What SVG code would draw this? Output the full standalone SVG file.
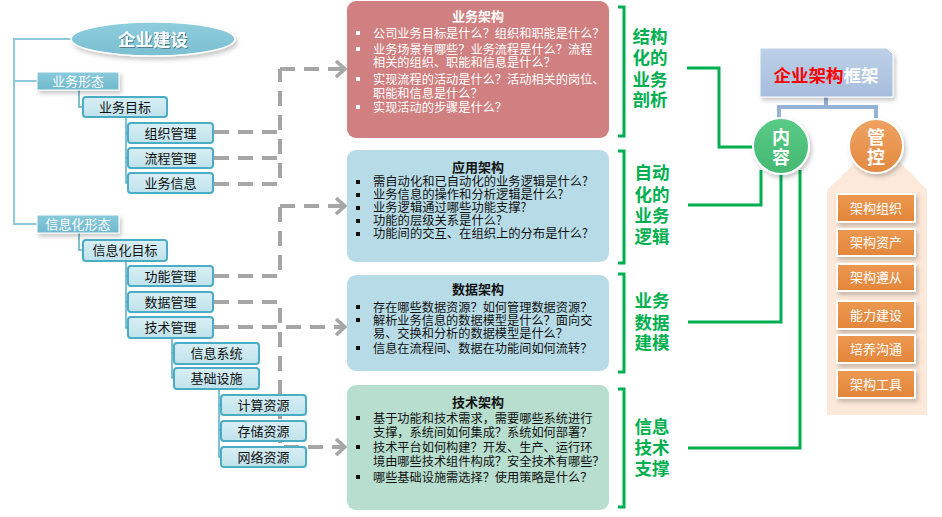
<svg xmlns="http://www.w3.org/2000/svg" width="942" height="517" viewBox="0 0 942 517">
<defs>
<filter id="sh" x="-20%" y="-20%" width="150%" height="160%"><feDropShadow dx="2" dy="3" stdDeviation="2" flood-color="#000" flood-opacity="0.22"/></filter>
<filter id="tsh" x="-10%" y="-10%" width="130%" height="140%"><feDropShadow dx="1" dy="1" stdDeviation="0.6" flood-color="#000" flood-opacity="0.35"/></filter>
<linearGradient id="gNode" x1="0" y1="0" x2="0" y2="1"><stop offset="0" stop-color="#D8EFF5"/><stop offset="1" stop-color="#BFE2EB"/></linearGradient>
<linearGradient id="gForm" x1="0" y1="0" x2="0" y2="1"><stop offset="0" stop-color="#8ACADB"/><stop offset="1" stop-color="#6EB8CD"/></linearGradient>
<linearGradient id="gEll" x1="0" y1="0" x2="0" y2="1"><stop offset="0" stop-color="#8FCDDD"/><stop offset="1" stop-color="#7BBFD2"/></linearGradient>
<linearGradient id="gTop" x1="0" y1="0" x2="0" y2="1"><stop offset="0" stop-color="#BDD0E7"/><stop offset="1" stop-color="#A6BEDD"/></linearGradient>
<linearGradient id="gGreen" x1="0" y1="0" x2="0" y2="1"><stop offset="0" stop-color="#5ACB86"/><stop offset="1" stop-color="#44B873"/></linearGradient>
<linearGradient id="gOrange" x1="0" y1="0" x2="0" y2="1"><stop offset="0" stop-color="#EFA263"/><stop offset="1" stop-color="#E38A40"/></linearGradient>
<linearGradient id="gItem" x1="0" y1="0" x2="0" y2="1"><stop offset="0" stop-color="#EC9852"/><stop offset="1" stop-color="#E3863A"/></linearGradient>
<marker id="chev" viewBox="0 0 12 18" refX="10" refY="9" markerWidth="12" markerHeight="18" markerUnits="userSpaceOnUse" orient="auto"><path d="M1,1 L10,9 L1,17" fill="none" stroke="#A6A6A6" stroke-width="3.5"/></marker>
</defs>
<style>
text{font-family:"Noto Sans CJK SC","Noto Sans",sans-serif}
.tree{fill:none;stroke:#55ACC5;stroke-width:1.5}
.main{fill:none;stroke:#8FCADB;stroke-width:2}
.node rect{fill:url(#gNode);stroke:#4BACC6;stroke-width:2}
.nt{font-size:13px;fill:#111;text-anchor:middle}
.ft{font-size:13px;fill:#fff;text-anchor:middle}
.dash{fill:none;stroke:#A6A6A6;stroke-width:4;stroke-dasharray:15 9}
.bt{font-size:13px;font-weight:bold;text-anchor:middle}
.li{font-size:12.2px}
.gl{fill:none;stroke:#00B050;stroke-width:3}
.gt{font-size:17.5px;font-weight:bold;fill:#00B050;text-anchor:middle}
.item rect{fill:url(#gItem);stroke:#fff;stroke-width:2}
.it{font-size:13px;fill:#fff;text-anchor:middle}
.ct{font-size:18px;font-weight:bold;fill:#fff;text-anchor:middle}
</style>

<g id="connectors">
<path class="main" d="M72,39 H14 V224 H37 M14,81 H37"/>
<path class="tree" d="M79,90 V107 H83"/>
<path class="tree" d="M126,117 V183 H128 M126,133 H128 M126,158 H128"/>
<path class="tree" d="M79,233 V250 H83"/>
<path class="tree" d="M126,261 V328 H128 M126,276 H128 M126,302 H128"/>
<path class="tree" d="M172,338 V378 H174 M172,353 H174"/>
<path class="tree" d="M219,389 V457 H221 M219,405 H221 M219,430 H221"/>
<path class="dash" d="M214,132 H280 M214,158 H280 M214,184 H280 V69"/>
<path class="dash" d="M280,69 H345" marker-end="url(#chev)"/>
<path class="dash" d="M214,276 H280 V206"/>
<path class="dash" d="M280,206 H345" marker-end="url(#chev)"/>
<path class="dash" d="M214,302 H280 V447"/>
<path class="dash" d="M214,327 H345" marker-end="url(#chev)"/>
<path class="dash" d="M284,447 H345" marker-end="url(#chev)"/>
<path class="gl" d="M618,7 H624 V136 H618"/>
<path class="gl" d="M618,151 H624 V263 H618"/>
<path class="gl" d="M618,274 H624 V372 H618"/>
<path class="gl" d="M618,389 H624 V507 H618"/>
<path class="gl" d="M687,68 H719 V147 H754"/>
<path class="gl" d="M688,205 H761 V170"/>
<path class="gl" d="M688,322 H781 V174"/>
<path class="gl" d="M688,448 H800 V170"/>
<path fill="none" stroke="#95B3D7" stroke-width="4" d="M826,97 V107 M779,120 V107 H876 V120"/>
</g>

<g id="n-qiye">
<ellipse cx="153" cy="39" rx="82" ry="17" fill="url(#gEll)" stroke="#fff" stroke-width="1.5" filter="url(#sh)"/>
<text x="153" y="45.5" font-size="17.5" font-weight="bold" fill="#fff" text-anchor="middle" filter="url(#tsh)">企业建设</text>
</g>
<g id="n-ywxt"><rect x="37" y="72" width="82" height="18" fill="url(#gForm)" stroke="#fff" stroke-width="1" filter="url(#sh)"/><text class="ft" x="78" y="86">业务形态</text></g>
<g id="n-xxhxt"><rect x="37" y="215" width="82" height="18" fill="url(#gForm)" stroke="#fff" stroke-width="1" filter="url(#sh)"/><text class="ft" x="78" y="229">信息化形态</text></g>
<g id="n-ywmb" class="node"><rect x="83" y="97" width="84" height="20" rx="3"/><text class="nt" x="125" y="111.5">业务目标</text></g>
<g id="n-zzgl" class="node"><rect x="128" y="123" width="85" height="20" rx="3"/><text class="nt" x="170.5" y="137.5">组织管理</text></g>
<g id="n-lcgl" class="node"><rect x="128" y="148" width="85" height="20" rx="3"/><text class="nt" x="170.5" y="162.5">流程管理</text></g>
<g id="n-ywxx" class="node"><rect x="128" y="173" width="85" height="20" rx="3"/><text class="nt" x="170.5" y="187.5">业务信息</text></g>
<g id="n-xxhmb" class="node"><rect x="83" y="240" width="84" height="21" rx="3"/><text class="nt" x="125" y="255">信息化目标</text></g>
<g id="n-gngl" class="node"><rect x="128" y="266" width="85" height="20" rx="3"/><text class="nt" x="170.5" y="280.5">功能管理</text></g>
<g id="n-sjgl" class="node"><rect x="128" y="292" width="85" height="20" rx="3"/><text class="nt" x="170.5" y="306.5">数据管理</text></g>
<g id="n-jsgl" class="node"><rect x="128" y="317" width="85" height="21" rx="3"/><text class="nt" x="170.5" y="332">技术管理</text></g>
<g id="n-xxxt" class="node"><rect x="174" y="343" width="85" height="21" rx="3"/><text class="nt" x="216.5" y="358">信息系统</text></g>
<g id="n-jcss" class="node"><rect x="174" y="368" width="85" height="21" rx="3"/><text class="nt" x="216.5" y="383">基础设施</text></g>
<g id="n-jszy" class="node"><rect x="221" y="395" width="85" height="20" rx="3"/><text class="nt" x="263.5" y="409.5">计算资源</text></g>
<g id="n-cczy" class="node"><rect x="221" y="421" width="85" height="20" rx="3"/><text class="nt" x="263.5" y="435.5">存储资源</text></g>
<g id="n-wlzy" class="node"><rect x="221" y="447" width="85" height="20" rx="3"/><text class="nt" x="263.5" y="461.5">网络资源</text></g>

<g id="b-yewu">
<rect x="347" y="1" width="262" height="137" rx="9" fill="#D08080"/>
<text class="bt" x="478" y="21" fill="#fff">业务架构</text>
<g fill="#fff"><rect x="356" y="31" width="4" height="4"/><rect x="356" y="47" width="4" height="4"/><rect x="356" y="77" width="4" height="4"/><rect x="356" y="105" width="4" height="4"/></g>
<g class="li" fill="#fff">
<text x="373" y="37.5">公司业务目标是什么？组织和职能是什么？</text>
<text x="373" y="53.5">业务场景有哪些？业务流程是什么？流程</text>
<text x="373" y="66.5">相关的组织、职能和信息是什么？</text>
<text x="373" y="83.5">实现流程的活动是什么？活动相关的岗位、</text>
<text x="373" y="97.5">职能和信息是什么？</text>
<text x="373" y="111.5">实现活动的步骤是什么？</text>
</g>
</g>

<g id="b-yingyong">
<rect x="347" y="150" width="262" height="112" rx="9" fill="#B7DCE7"/>
<text class="bt" x="478" y="172" fill="#111">应用架构</text>
<g fill="#111"><rect x="356" y="180" width="4" height="4"/><rect x="356" y="193" width="4" height="4"/><rect x="356" y="206" width="4" height="4"/><rect x="356" y="219" width="4" height="4"/><rect x="356" y="232" width="4" height="4"/></g>
<g fill="#111" font-size="12.3">
<text x="373" y="186">需自动化和已自动化的业务逻辑是什么?</text>
<text x="373" y="199">业务信息的操作和分析逻辑是什么?</text>
<text x="373" y="212">业务逻辑通过哪些功能支撑?</text>
<text x="373" y="225">功能的层级关系是什么?</text>
<text x="373" y="238">功能间的交互、在组织上的分布是什么?</text>
</g>
</g>

<g id="b-shuju">
<rect x="347" y="275" width="262" height="96" rx="9" fill="#B7DCE7"/>
<text class="bt" x="478" y="293.5" fill="#111">数据架构</text>
<g fill="#111"><rect x="356" y="305" width="4" height="4"/><rect x="356" y="318" width="4" height="4"/><rect x="356" y="346" width="4" height="4"/></g>
<g class="li" fill="#111">
<text x="373" y="311.5">存在哪些数据资源？如何管理数据资源？</text>
<text x="373" y="324.5">解析业务信息的数据模型是什么？面向交</text>
<text x="373" y="337.5">易、交换和分析的数据模型是什么？</text>
<text x="373" y="352.5">信息在流程间、数据在功能间如何流转？</text>
</g>
</g>

<g id="b-jishu">
<rect x="347" y="385" width="262" height="125" rx="9" fill="#B7DECE"/>
<text class="bt" x="478" y="406.5" fill="#111">技术架构</text>
<g fill="#111"><rect x="356" y="416" width="4" height="4"/><rect x="356" y="445" width="4" height="4"/><rect x="356" y="475" width="4" height="4"/></g>
<g class="li" fill="#111">
<text x="373" y="422.5">基于功能和技术需求，需要哪些系统进行</text>
<text x="373" y="436.5">支撑，系统间如何集成？系统如何部署？</text>
<text x="373" y="451.5">技术平台如何构建？开发、生产、运行环</text>
<text x="373" y="465.5">境由哪些技术组件构成？安全技术有哪些？</text>
<text x="373" y="481.5">哪些基础设施需选择？使用策略是什么？</text>
</g>
</g>

<g id="l-jiegou"><text class="gt" x="650" y="43">结构</text><text class="gt" x="650" y="64">化的</text><text class="gt" x="650" y="86">业务</text><text class="gt" x="650" y="106">剖析</text></g>
<g id="l-zidong"><text class="gt" x="652" y="179">自动</text><text class="gt" x="652" y="201">化的</text><text class="gt" x="652" y="222">业务</text><text class="gt" x="652" y="243">逻辑</text></g>
<g id="l-shuju"><text class="gt" x="652" y="307">业务</text><text class="gt" x="652" y="329">数据</text><text class="gt" x="652" y="349">建模</text></g>
<g id="l-xinxi"><text class="gt" x="652" y="433">信息</text><text class="gt" x="652" y="454">技术</text><text class="gt" x="652" y="475">支撑</text></g>

<g id="n-kuangjia">
<path d="M760,48 H887 L893,54 V97 H760 Z" fill="url(#gTop)" stroke="#fff" stroke-width="1" filter="url(#sh)"/>
<text x="826" y="81.5" font-size="17.5" font-weight="bold" text-anchor="middle"><tspan fill="#FF0000">企业架构</tspan><tspan fill="#fff">框架</tspan></text>
</g>

<g id="n-guankong-panel">
<path d="M827,415 V190 L866,152 H890 L927,190 V415 Z" fill="#FDE9D9"/>
</g>
<g id="n-neirong">
<circle cx="781" cy="146" r="28" fill="url(#gGreen)" stroke="#fff" stroke-width="2" filter="url(#sh)"/>
<text class="ct" x="781" y="143.5">内</text><text class="ct" x="781" y="163.5">容</text>
</g>
<g id="n-guankong">
<circle cx="876" cy="146" r="27" fill="url(#gOrange)" stroke="#fff" stroke-width="2" filter="url(#sh)"/>
<text class="ct" x="876" y="143.5">管</text><text class="ct" x="876" y="163.5">控</text>
</g>
<g id="i-zuzhi" class="item"><rect x="837" y="194" width="78" height="28" filter="url(#sh)"/><text class="it" x="876" y="212.5">架构组织</text></g>
<g id="i-zichan" class="item"><rect x="837" y="229" width="78" height="27" filter="url(#sh)"/><text class="it" x="876" y="247">架构资产</text></g>
<g id="i-zunc" class="item"><rect x="837" y="264" width="78" height="27" filter="url(#sh)"/><text class="it" x="876" y="282">架构遵从</text></g>
<g id="i-nengli" class="item"><rect x="837" y="301" width="78" height="28" filter="url(#sh)"/><text class="it" x="876" y="319.5">能力建设</text></g>
<g id="i-peiyang" class="item"><rect x="837" y="335" width="78" height="28" filter="url(#sh)"/><text class="it" x="876" y="353.5">培养沟通</text></g>
<g id="i-gongju" class="item"><rect x="837" y="370" width="78" height="28" filter="url(#sh)"/><text class="it" x="876" y="388.5">架构工具</text></g>
</svg>
